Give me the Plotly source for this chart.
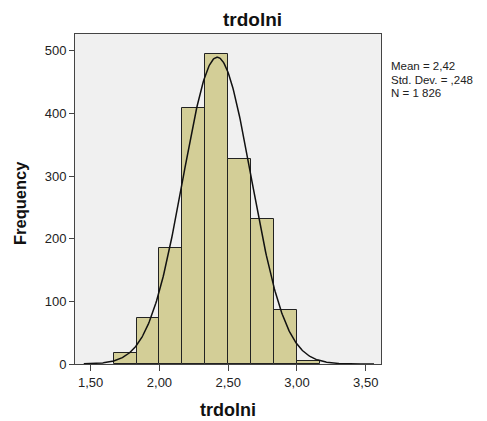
import numpy as np
import plotly.graph_objects as go

bin_left = [1.6667, 1.8333, 2.0, 2.1667, 2.3333, 2.5, 2.6667, 2.8333, 3.0]
counts = [17, 73, 185, 408, 494, 327, 232, 86, 4]
bin_width = 1 / 6
mean, sd, n = 2.42, 0.248, 1826
xtick_vals = [1.5, 2.0, 2.5, 3.0, 3.5]
xtick_text = ["1,50", "2,00", "2,50", "3,00", "3,50"]
ytick_vals = [0, 100, 200, 300, 400, 500]
stats_lines = ["Mean = 2,42", "Std. Dev. = ,248", "N = 1 826"]

centers = [b + bin_width / 2 for b in bin_left]
xs = np.linspace(1.45, 3.56, 400)
ys = n * bin_width / (sd * np.sqrt(2 * np.pi)) * np.exp(-0.5 * ((xs - mean) / sd) ** 2)

fig = go.Figure()
fig.add_trace(go.Bar(x=centers, y=counts, width=bin_width,
                     marker=dict(color="#D3CE97", line=dict(color="#222222", width=1)),
                     showlegend=False, hoverinfo="skip"))
fig.add_trace(go.Scatter(x=xs, y=ys, mode="lines", line=dict(color="#111111", width=1.5),
                         showlegend=False, hoverinfo="skip"))

font = "Liberation Sans, Arial, sans-serif"
L, R, T, B = 75, 381, 34, 364
W, H = R - L, B - T


def px(x):
    return (x - L) / W


def py(y):
    return (B - y) / H


fig.update_layout(
    width=487, height=421,
    margin=dict(l=L, r=487 - R, t=T, b=421 - B),
    paper_bgcolor="white", plot_bgcolor="#F0F0F0",
    font=dict(family=font, size=13, color="#222222"),
    bargap=0,
    xaxis=dict(range=[1.386, 3.611], tickvals=xtick_vals, ticktext=xtick_text,
               ticks="outside", ticklen=6, tickcolor="#444444", showgrid=False, zeroline=False,
               showline=True, linecolor="#444444", linewidth=1, mirror=True),
    yaxis=dict(range=[0, 526.7], tickvals=ytick_vals, ticks="outside", ticklen=5,
               tickcolor="#444444", showgrid=False, zeroline=False,
               showline=True, linecolor="#444444", linewidth=1, mirror=True),
)
# chart title
fig.add_annotation(xref="paper", yref="paper", x=px(252), y=py(20), xanchor="center",
                   yanchor="middle", showarrow=False, text="<b>trdolni</b>",
                   font=dict(size=19, color="#111111"))
# x axis title
fig.add_annotation(xref="paper", yref="paper", x=px(228), y=py(410), xanchor="center",
                   yanchor="middle", showarrow=False, text="<b>trdolni</b>",
                   font=dict(size=18, color="#111111"))
# y axis title
fig.add_annotation(xref="paper", yref="paper", x=px(20), y=py(203), xanchor="center",
                   yanchor="middle", showarrow=False, text="<b>Frequency</b>", textangle=-90,
                   font=dict(size=16.5, color="#111111"))
for i, line in enumerate(stats_lines):
    fig.add_annotation(xref="paper", yref="paper", x=px(389), y=py(66 + 13.5 * i),
                       xanchor="left", yanchor="middle", showarrow=False, text=line,
                       font=dict(size=11.5, color="#222222"))
fig.write_html("out.html")
